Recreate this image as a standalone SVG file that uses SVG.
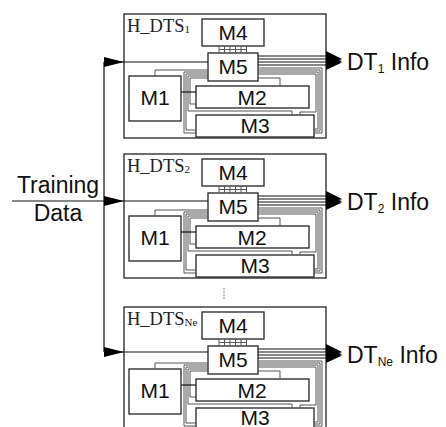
<svg xmlns="http://www.w3.org/2000/svg" xmlns:xlink="http://www.w3.org/1999/xlink" width="446" height="427" viewBox="0 0 446 427">
<style>
.box{fill:#fff;stroke:#222;stroke-width:1.3}
.outer{fill:#fff;stroke:#222;stroke-width:1.3}
.m{font-family:"Liberation Sans",Arial,sans-serif;font-size:21px;text-anchor:middle;fill:#111}
.lbl{font-family:"Liberation Serif","Times New Roman",serif;font-size:18.5px;fill:#222}
.io{font-family:"Liberation Sans",Arial,sans-serif;font-size:23px;fill:#111}
.wire{fill:none;stroke:#555;stroke-width:1}
.bl{fill:none;stroke:#111;stroke-width:1.2}
.head{fill:#000;stroke:none}
</style>
<defs>
<g id="wires">
<path class="wire" d="M155,76V70H208"/>
<path class="wire" d="M208,72H184V133H196M208,74H186V130H196M208,76H188V111H292V115M208,78H190V104H196"/>
<path class="bl" d="M181,92H196"/>
<path class="wire" d="M258,68H322V133H314M258,70H320V131H314M258,72H318V129H314M258,74H316V112H300V115M258,78H280V86"/>
<path class="bl" d="M258,56H330M258,59H330M258,62H330M258,65H330"/>
<path class="head" d="M326,51L342,59L326,61ZM326,54L342,60L326,64ZM326,57L342,61.5L326,67ZM326,60L342,62.5L326,70Z"/>
<path class="wire" d="M219,46V53M224.5,46V53M230,46V53M235.5,46V53M241,46V53M246.5,46V53M219,49.5H246.5"/>
</g>
</defs>

<g id="dts1">
<rect class="outer" x="124" y="14" width="202" height="124"/>
<text class="lbl" x="127" y="32">H_DTS<tspan font-size="11" dy="1">1</tspan></text>
<g id="dts1-m4"><rect class="box" x="202" y="19" width="62" height="27"/><text class="m" x="233" y="40">M4</text></g>
<g id="dts1-m5"><rect class="box" x="208" y="53" width="50" height="28"/><text class="m" x="233" y="74">M5</text></g>
<g id="dts1-m1"><rect class="box" x="129" y="76" width="52" height="45"/><text class="m" x="155" y="105">M1</text></g>
<g id="dts1-m2"><rect class="box" x="196" y="86" width="113" height="22"/><text class="m" x="252" y="105">M2</text></g>
<g id="dts1-m3"><rect class="box" x="196" y="115" width="118" height="22"/><text class="m" x="255" y="133">M3</text></g>
</g>

<g id="dts2" transform="translate(0,140)">
<rect class="outer" x="124" y="14" width="202" height="124"/>
<text class="lbl" x="127" y="32">H_DTS<tspan font-size="11" dy="1">2</tspan></text>
<g id="dts2-m4"><rect class="box" x="202" y="19" width="62" height="27"/><text class="m" x="233" y="40">M4</text></g>
<g id="dts2-m5"><rect class="box" x="208" y="53" width="50" height="28"/><text class="m" x="233" y="74">M5</text></g>
<g id="dts2-m1"><rect class="box" x="129" y="76" width="52" height="45"/><text class="m" x="155" y="105">M1</text></g>
<g id="dts2-m2"><rect class="box" x="196" y="86" width="113" height="22"/><text class="m" x="252" y="105">M2</text></g>
<g id="dts2-m3"><rect class="box" x="196" y="115" width="118" height="22"/><text class="m" x="255" y="133">M3</text></g>
</g>

<g id="dts3" transform="translate(0,293)">
<rect class="outer" x="124" y="14" width="202" height="124"/>
<text class="lbl" x="127" y="32">H_DTS<tspan font-size="11" dy="1">Ne</tspan></text>
<g id="dts3-m4"><rect class="box" x="202" y="19" width="62" height="27"/><text class="m" x="233" y="40">M4</text></g>
<g id="dts3-m5"><rect class="box" x="208" y="53" width="50" height="28"/><text class="m" x="233" y="74">M5</text></g>
<g id="dts3-m1"><rect class="box" x="129" y="76" width="52" height="45"/><text class="m" x="155" y="105">M1</text></g>
<g id="dts3-m2"><rect class="box" x="196" y="86" width="113" height="22"/><text class="m" x="252" y="105">M2</text></g>
<g id="dts3-m3"><rect class="box" x="196" y="115" width="118" height="22"/><text class="m" x="255" y="132">M3</text></g>
</g>

<g id="connectors">
<use xlink:href="#wires"/>
<use xlink:href="#wires" transform="translate(0,140)"/>
<use xlink:href="#wires" transform="translate(0,293)"/>
<path class="bl" d="M12,201H104M104,62V352M104,62H208M104,201H208M104,352H208"/>
<path class="head" d="M104,57L124,62L104,67ZM104,196L124,201L104,206ZM104,347L124,352L104,357Z"/>
</g>

<g id="outputs">
<text class="io" x="347" y="70">DT<tspan font-size="12" dy="3">1</tspan><tspan dy="-3"> Info</tspan></text>
<text class="io" x="347" y="210">DT<tspan font-size="12" dy="3">2</tspan><tspan dy="-3"> Info</tspan></text>
<text class="io" x="347" y="363">DT<tspan font-size="12" dy="3">Ne</tspan><tspan dy="-3"> Info</tspan></text>
</g>

<g id="input">
<text class="io" x="58" y="193" text-anchor="middle">Training</text>
<text class="io" x="58" y="221" text-anchor="middle">Data</text>
</g>

<g id="ellipsis" fill="#555">
<circle cx="224" cy="289" r="0.7"/><circle cx="224" cy="292" r="0.7"/><circle cx="224" cy="295" r="0.7"/><circle cx="224" cy="298" r="0.7"/>
</g>
</svg>
